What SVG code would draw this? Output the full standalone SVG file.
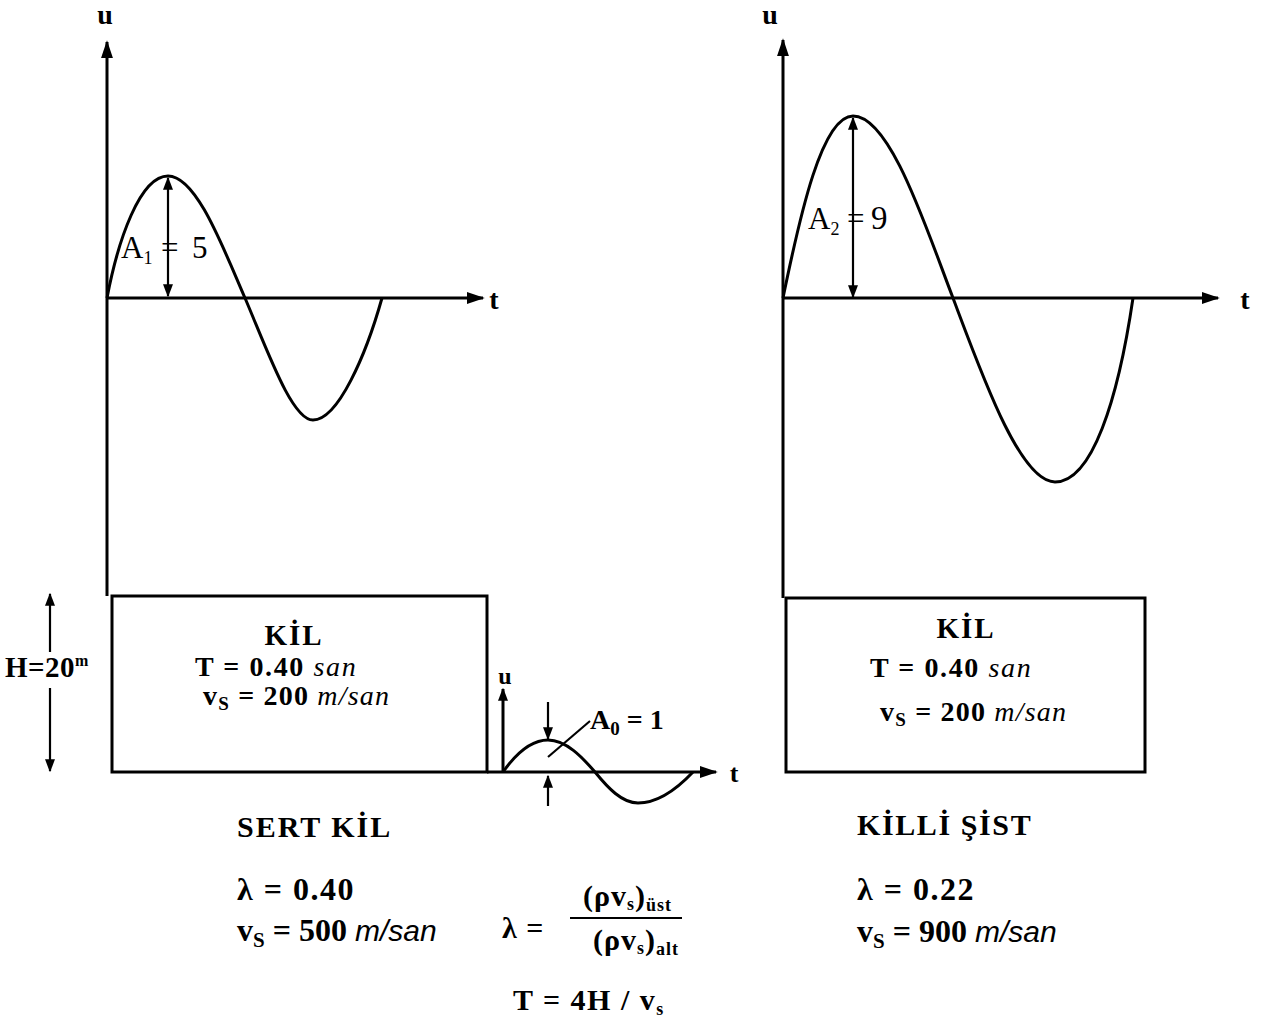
<svg xmlns="http://www.w3.org/2000/svg" width="1274" height="1018" viewBox="0 0 1274 1018">
<style>
text{font-family:"Liberation Serif","Times New Roman",serif;fill:#000}
.b{font-weight:bold}
.i{font-style:italic;font-weight:normal}
.sans{font-family:"Liberation Sans",Arial,sans-serif}
.ax{stroke:#000;stroke-width:3;fill:none}
.th{stroke:#000;stroke-width:2.2;fill:none}
.wave{stroke:#000;stroke-width:3;fill:none}
.box{stroke:#000;stroke-width:3;fill:#fff}
</style>
<defs>
<marker id="ahL" viewBox="0 0 10 10" refX="9" refY="5" markerWidth="18" markerHeight="12" preserveAspectRatio="none" orient="auto-start-reverse" markerUnits="userSpaceOnUse"><path d="M0,0 L10,5 L0,10 z"/></marker>
<marker id="ahS" viewBox="0 0 10 10" refX="9" refY="5" markerWidth="13" markerHeight="10" preserveAspectRatio="none" orient="auto-start-reverse" markerUnits="userSpaceOnUse"><path d="M0,0 L10,5 L0,10 z"/></marker>
</defs>
<rect width="1274" height="1018" fill="#fff"/>

<g id="connectors">
<line class="ax" x1="107" y1="596" x2="107" y2="42" marker-end="url(#ahL)"/>
<line class="ax" x1="107" y1="298" x2="483" y2="298" marker-end="url(#ahL)"/>
<line class="ax" x1="783" y1="598" x2="783" y2="40" marker-end="url(#ahL)"/>
<line class="ax" x1="783" y1="298" x2="1218" y2="298" marker-end="url(#ahL)"/>
<line class="th" x1="168" y1="178" x2="168" y2="296" marker-start="url(#ahS)" marker-end="url(#ahS)"/>
<line class="th" x1="853" y1="118" x2="853" y2="297" marker-start="url(#ahS)" marker-end="url(#ahS)"/>
<line class="th" x1="50" y1="652" x2="50" y2="594" marker-end="url(#ahS)"/>
<line class="th" x1="50" y1="688" x2="50" y2="771" marker-end="url(#ahS)"/>
<line class="ax" x1="503" y1="772" x2="503" y2="689" marker-end="url(#ahS)"/>
<line class="ax" x1="487" y1="772" x2="716" y2="772" marker-end="url(#ahL)"/>
<line class="th" x1="548" y1="702" x2="548" y2="739" marker-end="url(#ahS)"/>
<line class="th" x1="548" y1="806" x2="548" y2="776" marker-end="url(#ahS)"/>
<line class="th" x1="548" y1="757" x2="590" y2="721"/>
</g>

<g id="wave-left">
<path class="wave" d="M107,298 C118,240 140,176 168,176 C196,176 222,245 245,298 C268,352 292,420 313,420 C338,420 366,355 382,298"/>
<text x="121" y="258" font-size="31">A<tspan font-size="18" dy="6">1</tspan><tspan dy="-6" x="161">=</tspan><tspan x="192">5</tspan></text>
<text class="b" x="105" y="24" font-size="28" text-anchor="middle">u</text>
<text class="b" x="494" y="309" font-size="28" text-anchor="middle">t</text>
</g>

<g id="wave-right">
<path class="wave" d="M783,298 C800,215 822,116 853,116 C890,116 925,225 953,298 C982,375 1020,482 1055,482 C1092,482 1118,400 1133,298"/>
<text x="808" y="229" font-size="31">A<tspan font-size="18" dy="6">2</tspan><tspan dy="-6" x="847">=</tspan><tspan x="871" font-size="33">9</tspan></text>
<text class="b" x="770" y="24" font-size="28" text-anchor="middle">u</text>
<text class="b" x="1245" y="309" font-size="28" text-anchor="middle">t</text>
</g>

<g id="box-left">
<rect class="box" x="112" y="596" width="375" height="176"/>
<text class="b" x="294" y="645" font-size="29" text-anchor="middle" letter-spacing="2">KİL</text>
<text class="b" x="195" y="676" font-size="28" letter-spacing="1.6">T = 0.40 <tspan class="i">san</tspan></text>
<text class="b" x="203" y="705" font-size="28" letter-spacing="1.2">v<tspan font-size="19" dy="5">S</tspan><tspan dy="-5"> = 200 </tspan><tspan class="i">m/san</tspan></text>
</g>

<g id="height-label">
<text class="b" x="5" y="677" font-size="29" letter-spacing="0.5">H=20<tspan font-size="16" dy="-11">m</tspan></text>
</g>

<g id="input-wave">
<path class="wave" d="M503,772 C515,755 530,740 548,740 C566,740 582,757 595,772 C608,788 622,803 638,803 C656,803 676,790 693,772"/>
<text class="b" x="505" y="684" font-size="24" text-anchor="middle">u</text>
<text class="b" x="734" y="782" font-size="26" text-anchor="middle">t</text>
<text class="b" x="590" y="729" font-size="28">A<tspan font-size="19" dy="6">0</tspan><tspan dy="-6"> = 1</tspan></text>
</g>

<g id="box-right">
<rect class="box" x="786" y="598" width="359" height="174"/>
<text class="b" x="966" y="638" font-size="29" text-anchor="middle" letter-spacing="2">KİL</text>
<text class="b" x="870" y="677" font-size="28" letter-spacing="1.6">T = 0.40 <tspan class="i">san</tspan></text>
<text class="b" x="880" y="721" font-size="28" letter-spacing="1.2">v<tspan font-size="19" dy="5">S</tspan><tspan dy="-5"> = 200 </tspan><tspan class="i">m/san</tspan></text>
</g>

<g id="layer-left">
<text class="b" x="237" y="837" font-size="30" letter-spacing="2">SERT KİL</text>
<text class="b" x="237" y="900" font-size="32" letter-spacing="1.5">λ = 0.40</text>
<text class="b" x="237" y="941" font-size="32">v<tspan font-size="21" dy="6">S</tspan><tspan dy="-6"> = 500 </tspan><tspan class="i sans" font-size="30">m/san</tspan></text>
</g>

<g id="layer-right">
<text class="b" x="857" y="835" font-size="30" letter-spacing="1.6">KİLLİ ŞİST</text>
<text class="b" x="857" y="900" font-size="32" letter-spacing="1.5">λ = 0.22</text>
<text class="b" x="857" y="942" font-size="32">v<tspan font-size="21" dy="6">S</tspan><tspan dy="-6"> = 900 </tspan><tspan class="i sans" font-size="30">m/san</tspan></text>
</g>

<g id="formulas">
<text class="b" x="502" y="938" font-size="30" letter-spacing="1">λ =</text>
<text class="b" x="583" y="906" font-size="30" letter-spacing="1">(ρv<tspan font-size="18" dy="4">s</tspan><tspan dy="-4">)</tspan><tspan font-size="18" dy="5">üst</tspan></text>
<line x1="570" y1="918" x2="682" y2="918" stroke="#000" stroke-width="2"/>
<text class="b" x="593" y="950" font-size="30" letter-spacing="1">(ρv<tspan font-size="18" dy="4">s</tspan><tspan dy="-4">)</tspan><tspan font-size="18" dy="5">alt</tspan></text>
<text class="b" x="513" y="1010" font-size="30" letter-spacing="1.5">T = 4H / v<tspan font-size="18" dy="5">s</tspan></text>
</g>
</svg>
